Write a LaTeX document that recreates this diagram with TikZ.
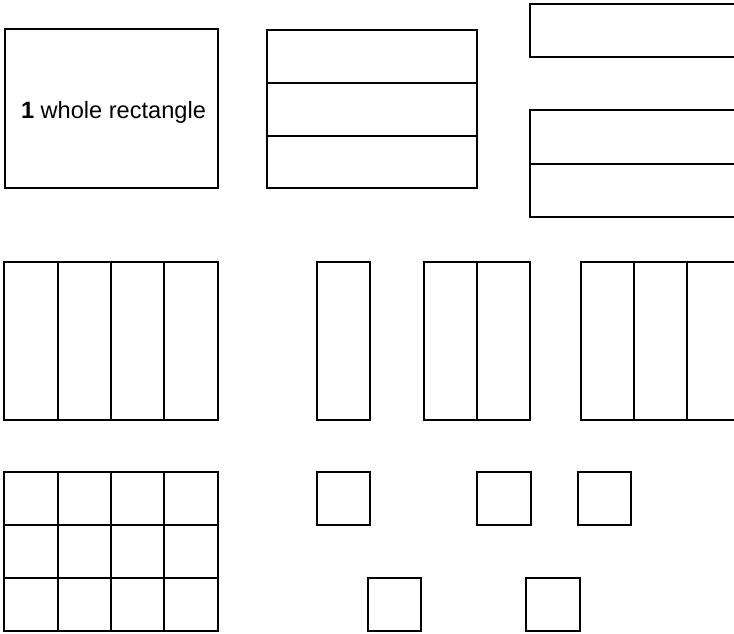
\documentclass[tikz,border=0pt]{standalone}
\usepackage{fontspec}
\setmainfont{Liberation Sans}
\begin{document}
\begin{tikzpicture}[x=1pt,y=-1pt,
  part/.style={draw=black,line width=1.7pt,line join=miter},
  label/.style={font=\fontsize{23.6}{26}\selectfont,inner sep=0pt}]
\useasboundingbox (0,0) rectangle (734,633);
\clip (0,0) rectangle (734,633);
% top row
\draw[part] (5,29) rectangle (218,188);
\node[label,anchor=base] (whole) at (113.5,118) {\textbf{1} whole rectangle};
\draw[part] (267,30) rectangle (477,188);
\draw[part] (267,83) -- (477,83);
\draw[part] (267,136) -- (477,136);
\draw[part] (530,4) rectangle (743,57);
\draw[part] (530,110) rectangle (743,217);
\draw[part] (530,164) -- (743,164);
% middle row
\draw[part] (4,262) rectangle (218,420);
\foreach \x in {58,111,164} \draw[part] (\x,262) -- (\x,420);
\draw[part] (317,262) rectangle (370,420);
\draw[part] (424,262) rectangle (530,420);
\draw[part] (477,262) -- (477,420);
\draw[part] (581,262) rectangle (740,420);
\foreach \x in {634,687} \draw[part] (\x,262) -- (\x,420);
% bottom row
\draw[part] (4,472) rectangle (218,631);
\foreach \x in {58,111,164} \draw[part] (\x,472) -- (\x,631);
\foreach \y in {525,578} \draw[part] (4,\y) -- (218,\y);
\draw[part] (317,472) rectangle (370,525);
\draw[part] (477,472) rectangle (531,525);
\draw[part] (578,472) rectangle (631,525);
\draw[part] (368,578) rectangle (421,631);
\draw[part] (526,578) rectangle (580,631);
\end{tikzpicture}
\end{document}
